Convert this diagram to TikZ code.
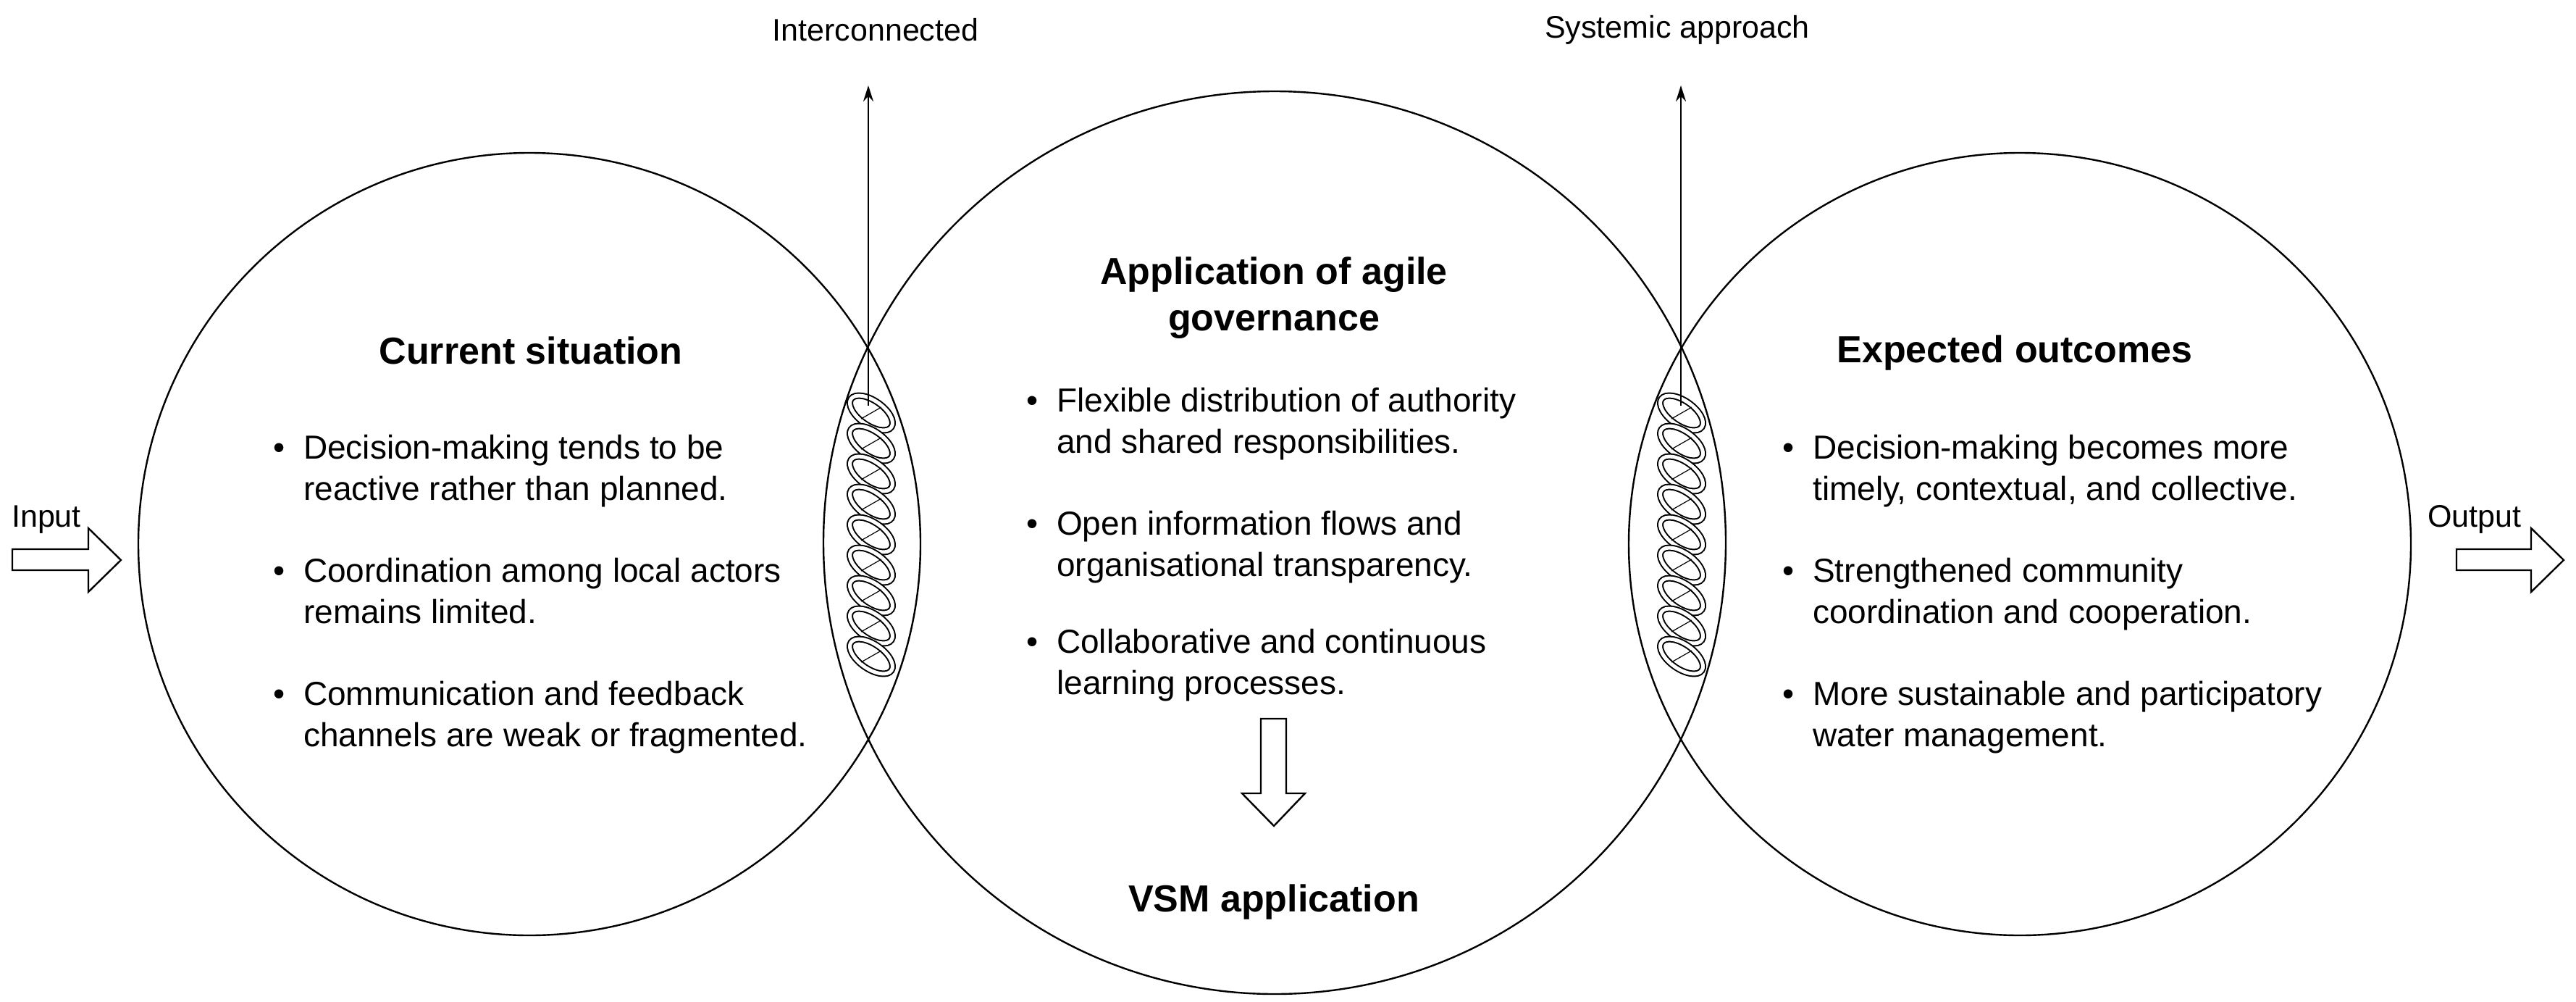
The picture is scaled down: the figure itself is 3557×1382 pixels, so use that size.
\documentclass[tikz,border=0pt]{standalone}
\usepackage{fontspec}
\setmainfont{Liberation Sans}
\usetikzlibrary{arrows.meta}
\begin{document}
\begin{tikzpicture}[x=1pt,y=-1pt,
  ln/.style={line width=2.4pt,draw=black},
  body/.style={font=\fontsize{46}{57}\selectfont,align=left,anchor=base west,inner sep=0},
  ttl/.style={font=\fontsize{52}{64}\selectfont\bfseries,align=center,inner sep=0},
  lbl/.style={font=\fontsize{43}{52}\selectfont,inner sep=0},
  blk/.style={line width=2.4pt,draw=black,fill=white,line join=miter},
  link/.style={draw=black,line width=2pt,double=white,double distance=5pt}]
\newcommand{\bul}{\llap{\textbullet\hspace{26pt}}}
\useasboundingbox (0,0) rectangle (3557,1382);
% circles
\node[ln,circle,minimum size=1080pt,inner sep=0] (L) at (731,751) {};
\node[ln,circle,minimum size=1246pt,inner sep=0] (M) at (1760,749) {};
\node[ln,circle,minimum size=1080pt,inner sep=0] (R) at (2789,751) {};
% chains
\foreach \cx in {1203,2322}{
  \foreach \k in {0,...,8}{
    \draw[link,rotate around={-35:(\cx,570+\k*42)}] (\cx,570+\k*42) ellipse [x radius=34pt,y radius=17pt];
    \draw[line width=1.2pt] (\cx-14,570+\k*42+8) -- (\cx+14,570+\k*42-8);
  }
}
% up arrows
\coordinate (a1s) at (1199,560); \coordinate (a1e) at (1199,118);
\coordinate (a2s) at (2321,560); \coordinate (a2e) at (2321,118);
\draw[line width=2.4pt,-{Stealth[length=22pt,width=14pt]}] (a1s) -- (a1e);
\draw[line width=2.4pt,-{Stealth[length=22pt,width=14pt]}] (a2s) -- (a2e);
\node[lbl] (t1) at (1209,41) {Interconnected};
\node[lbl] (t2) at (2316,41) {Systemic approach};
% titles
\node[ttl] (h1) at (733,484) {Current situation};
\node[ttl] (h2) at (1759,411) {Application of agile\\governance};
\node[ttl] (h3) at (2782,487) {Expected outcomes};
% left bullets
\node[body] (b1) at (419,690) {\bul Decision-making tends to be\\reactive rather than planned.};
\node[body] (b2) at (419,860) {\bul Coordination among local actors\\remains limited.};
\node[body] (b3) at (419,1030) {\bul Communication and feedback\\channels are weak or fragmented.};
% middle bullets
\node[body] (b4) at (1459,625) {\bul Flexible distribution of authority\\and shared responsibilities.};
\node[body] (b5) at (1459,795) {\bul Open information flows and\\organisational transparency.};
\node[body] (b6) at (1459,958) {\bul Collaborative and continuous\\learning processes.};
% VSM
\draw[blk] (1741,992) -- (1776,992) -- (1776,1095) -- (1802,1095) -- (1759,1140) -- (1715,1095) -- (1741,1095) -- cycle;
\node[ttl] (vsm) at (1759,1245) {VSM application};
% right bullets
\node[body] (b7) at (2503,690) {\bul Decision-making becomes more\\timely, contextual, and collective.};
\node[body] (b8) at (2503,860) {\bul Strengthened community\\coordination and cooperation.};
\node[body] (b9) at (2503,1030) {\bul More sustainable and participatory\\water management.};
% input / output
\draw[blk] (17,758) -- (122,758) -- (122,729) -- (167,773) -- (122,817) -- (122,787) -- (17,787) -- cycle;
\node[lbl,anchor=base] (inp) at (64,727) {Input};
\draw[blk] (3392,758) -- (3495,758) -- (3495,729) -- (3540,773) -- (3495,817) -- (3495,787) -- (3392,787) -- cycle;
\node[lbl,anchor=base] (out) at (3417,727) {Output};
\end{tikzpicture}
\end{document}
